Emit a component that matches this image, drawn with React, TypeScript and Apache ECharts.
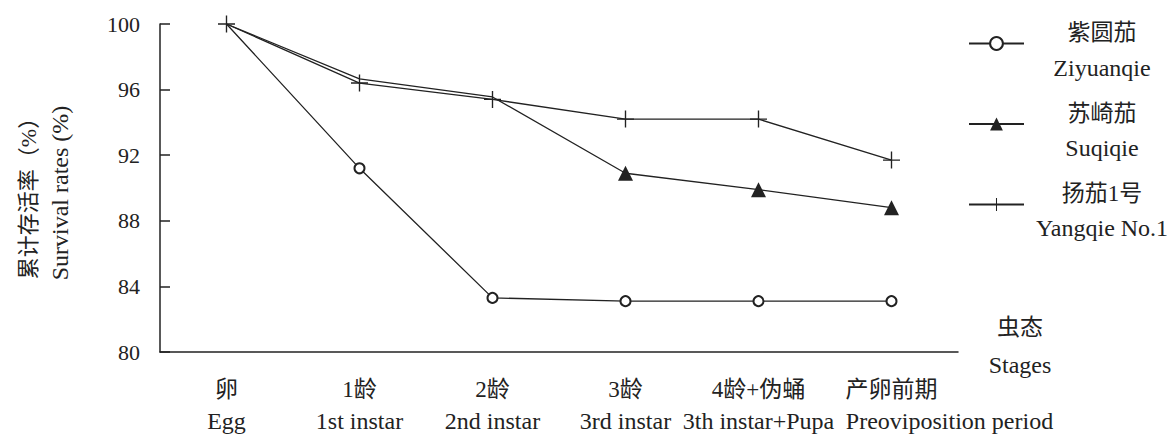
import React, { useEffect, useRef } from "react";
import * as echarts from "echarts";

const categoriesCn = ["卵", "1龄", "2龄", "3龄", "4龄+伪蛹", "产卵前期"];
const categoriesEn = ["Egg", "1st instar", "2nd instar", "3rd instar", "3th instar+Pupa", "Preoviposition period"];

const seriesNamesCn = ["紫圆茄", "苏崎茄", "扬茄1号"];
const seriesNamesEn = ["Ziyuanqie", "Suqiqie", "Yangqie No.1"];

const ziyuanqie = [100, 91.2, 83.3, 83.1, 83.1, 83.1];
const suqiqie = [100, 96.65, 95.55, 90.9, 89.9, 88.8];
const yangqie = [100, 96.4, 95.4, 94.2, 94.2, 91.7];

// number of leading points whose marker is hidden (shared points drawn by another series)
const hiddenLeading = [1, 3, 0];

const yMin = 80;
const yMax = 100;
const yInterval = 4;

const FONT = "'Liberation Serif', 'Times New Roman', 'Noto Sans CJK SC', serif";
const INK = "#222";
const PLUS = "path://M9.2,0h1.6v20h-1.6z M0,9.2h20v1.6h-20z";

function withHidden(values: number[], n: number) {
  return values.map((v, i) => (i < n ? { value: v, symbol: "none" } : v));
}

export default function App() {
  const ref = useRef<HTMLDivElement>(null);

  useEffect(() => {
    if (!ref.current) return;
    const chart = echarts.init(ref.current, undefined, { renderer: "svg" });
    const names = seriesNamesCn.map((cn, i) => cn + "|" + seriesNamesEn[i]);
    const symbols = ["emptyCircle", "triangle", PLUS];
    const sizes = [10, 15, 17];
    const data = [ziyuanqie, suqiqie, yangqie];

    chart.setOption({
      animation: false,
      backgroundColor: "#fff",
      textStyle: { fontFamily: FONT, color: INK },
      grid: { left: 160, right: 209, top: 24, bottom: 84, containLabel: false },
      legend: {
        orient: "vertical",
        left: 968,
        top: 21,
        padding: 0,
        itemGap: 22,
        itemWidth: 55,
        itemHeight: 16,
        data: names,
        formatter: (name: string) => {
          const [cn, en] = name.split("|");
          return `{cn|${cn}}\n{en|${en}}`;
        },
        textStyle: {
          rich: {
            cn: { fontFamily: FONT, fontSize: 23, lineHeight: 48, width: 146, align: "center", color: INK },
            en: { fontFamily: FONT, fontSize: 24, lineHeight: 22, width: 146, align: "center", color: INK },
          },
        },
      },
      xAxis: {
        type: "category",
        data: categoriesCn,
        boundaryGap: true,
        axisLine: { lineStyle: { color: INK, width: 1.5 } },
        axisTick: { inside: true, length: 7, interval: 0, lineStyle: { color: INK, width: 1.5 } },
        axisLabel: {
          interval: 0,
          margin: 22,
          formatter: (_v: string, i: number) =>
            `{cn|${categoriesCn[i]}}\n{${i === 5 ? "en5" : "en"}|${categoriesEn[i]}}`,
          rich: {
            cn: { fontFamily: FONT, fontSize: 23, lineHeight: 31, color: INK },
            en: { fontFamily: FONT, fontSize: 24, lineHeight: 31, color: INK },
            en5: { fontFamily: FONT, fontSize: 24, lineHeight: 31, color: INK, padding: [0, 0, 0, 116] },
          },
        },
        name: "{a|虫态}\n{b|Stages}",
        nameLocation: "end",
        nameGap: 22,
        nameTextStyle: {
          padding: [0, 0, 12, 0],
          rich: {
            a: { fontFamily: FONT, fontSize: 23, lineHeight: 37, width: 80, align: "center", color: INK },
            b: { fontFamily: FONT, fontSize: 24, lineHeight: 37, width: 80, align: "center", color: INK },
          },
        },
        splitLine: { show: false },
      },
      yAxis: {
        type: "value",
        min: yMin,
        max: yMax,
        interval: yInterval,
        axisLine: { show: true, lineStyle: { color: INK, width: 1.5 } },
        axisTick: { show: true, inside: true, length: 10, lineStyle: { color: INK, width: 1.5 } },
        axisLabel: { fontFamily: FONT, fontSize: 22, color: INK, margin: 20 },
        splitLine: { show: false },
        name: "{a|累计存活率（%）}\n{b|Survival rates (%)}",
        nameLocation: "middle",
        nameRotate: 90,
        nameGap: 84,
        nameTextStyle: {
          padding: [0, 10, 0, 0],
          rich: {
            a: { fontFamily: FONT, fontSize: 22, lineHeight: 32, align: "center", color: INK },
            b: { fontFamily: FONT, fontSize: 24, lineHeight: 32, align: "center", color: INK },
          },
        },
      },
      series: data.map((vals, k) => ({
        name: names[k],
        type: "line",
        data: withHidden(vals, hiddenLeading[k]),
        symbol: symbols[k],
        symbolSize: sizes[k],
        showAllSymbol: true,
        lineStyle: { color: INK, width: 1.3 },
        itemStyle: { color: INK, borderColor: INK, borderWidth: k === 0 ? 1.8 : 0 },
        z: 3 - k,
      })),
    });
    return () => chart.dispose();
  }, []);

  return (
    <div
      ref={ref}
      style={{ position: "fixed", left: 0, top: 0, width: 1167, height: 436, background: "#fff" }}
    />
  );
}
